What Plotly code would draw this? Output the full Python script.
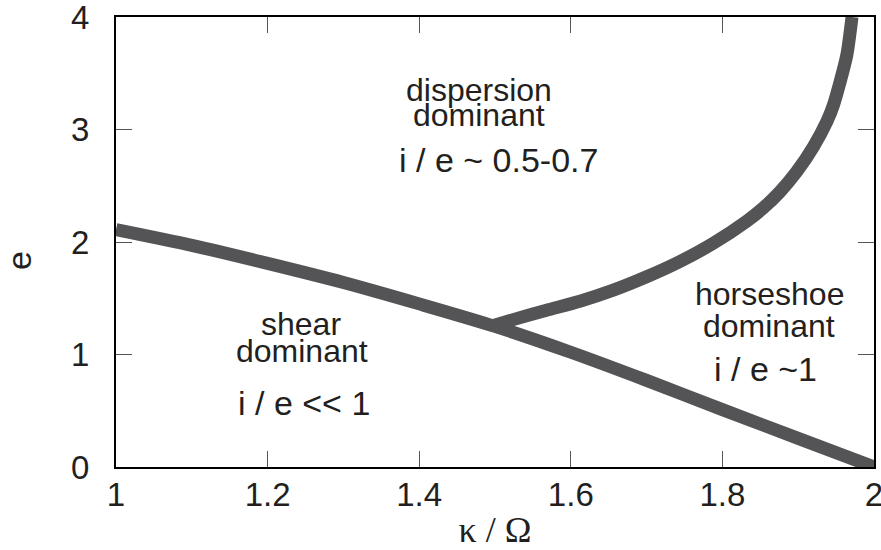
import plotly.graph_objects as go

# Boundary between shear- and dispersion-dominated regimes
lower_kappa = [1.0, 1.1, 1.2, 1.3, 1.4, 1.5, 1.6, 1.7, 1.8, 1.9, 2.0]
lower_e = [2.11, 1.97, 1.81, 1.64, 1.45, 1.25, 1.02, 0.77, 0.51, 0.255, 0.0]

# Boundary between dispersion- and horseshoe-dominated regimes
upper_kappa = [1.497, 1.524, 1.568, 1.612, 1.656, 1.700, 1.744, 1.788, 1.832,
               1.854, 1.876, 1.898, 1.920, 1.938, 1.947, 1.964, 1.971]
upper_e = [1.255, 1.31, 1.394, 1.474, 1.572, 1.691, 1.827, 1.989, 2.185,
           2.303, 2.447, 2.625, 2.846, 3.073, 3.228, 3.657, 4.0]

x_ticks = [1.0, 1.2, 1.4, 1.6, 1.8, 2.0]
x_tick_text = ["1", "1.2", "1.4", "1.6", "1.8", "2"]
y_ticks = [0, 1, 2, 3, 4]
y_tick_text = ["0", "1", "2", "3", "4"]

LINE = "#545456"
INK = "#231f20"
SANS = "Liberation Sans, Arial, sans-serif"
SERIF = "Liberation Serif, Times New Roman, serif"

fig = go.Figure()
fig.add_trace(go.Scatter(x=lower_kappa, y=lower_e, mode="lines",
                         line=dict(color=LINE, width=13, shape="spline", smoothing=0.8),
                         showlegend=False, hoverinfo="skip"))
fig.add_trace(go.Scatter(x=upper_kappa, y=upper_e, mode="lines",
                         line=dict(color=LINE, width=13, shape="spline", smoothing=0.6),
                         showlegend=False, hoverinfo="skip"))

# Region labels: (text, x, y, size)
labels = [
    ("dispersion", 1.479, 3.35, 32),
    ("dominant", 1.479, 3.125, 32),
    ("i / e ~ 0.5-0.7", 1.505, 2.725, 34),
    ("shear", 1.244, 1.27, 32),
    ("dominant", 1.245, 1.03, 32),
    ("i / e << 1", 1.248, 0.565, 34),
    ("horseshoe", 1.862, 1.54, 32),
    ("dominant", 1.862, 1.255, 32),
    ("i / e ~1", 1.857, 0.87, 34),
]
for text, x, y, size in labels:
    fig.add_annotation(x=x, y=y, xref="x", yref="y", text=text, showarrow=False,
                       xanchor="center", yanchor="middle",
                       font=dict(family=SANS, size=size, color=INK))

# Vertical axis title
fig.add_annotation(x=-0.128, y=0.46, xref="paper", yref="paper", text="e",
                   showarrow=False, textangle=-90, xanchor="center", yanchor="middle",
                   font=dict(family=SANS, size=34, color=INK))

fig.update_xaxes(range=[1, 2], tickvals=x_ticks, ticktext=x_tick_text,
                 ticks="inside", ticklen=16, tickwidth=1, tickcolor="#555555",
                 showline=True, linecolor="black", linewidth=2, mirror="ticks",
                 showgrid=False, zeroline=False, ticklabeloverflow="allow",
                 automargin=False, ticklabelstandoff=-3,
                 tickfont=dict(family=SANS, size=33, color=INK),
                 title=dict(text="κ / Ω", font=dict(family=SERIF, size=36, color=INK), standoff=6))
fig.update_yaxes(range=[0, 4], tickvals=y_ticks, ticktext=y_tick_text,
                 ticks="inside", ticklen=16, tickwidth=1, tickcolor="#555555",
                 showline=True, linecolor="black", linewidth=2, mirror="ticks",
                 showgrid=False, zeroline=False, ticklabeloverflow="allow",
                 automargin=False,
                 tickfont=dict(family=SANS, size=33, color=INK), ticklabelstandoff=18)

fig.update_layout(width=881, height=550, margin=dict(l=116, r=7, t=17, b=83),
                  paper_bgcolor="white", plot_bgcolor="white")

fig.write_html("out.html")
